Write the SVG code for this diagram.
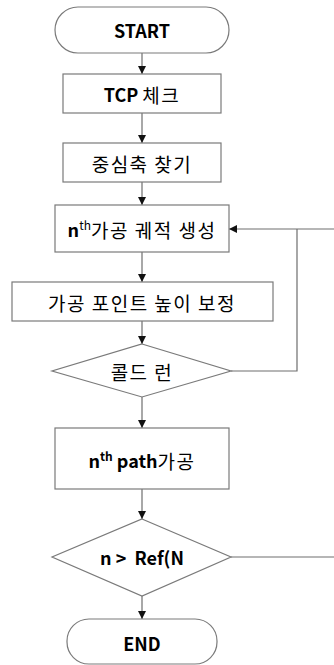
<svg xmlns="http://www.w3.org/2000/svg" width="334" height="665" viewBox="0 0 334 665">
<style>
.s{fill:#fff;stroke:#7a7a7a;stroke-width:1.2}
.c{fill:none;stroke:#6e6e6e;stroke-width:1.2}
.t{font-family:"Noto Sans CJK KR","Malgun Gothic",sans-serif;font-size:18px;fill:#000;text-anchor:middle;dominant-baseline:central}
.k{font-size:19px;letter-spacing:1.5px}
.b{font-weight:bold}
</style>
<defs>
<marker id="ah" markerWidth="8" markerHeight="8" refX="8" refY="4" orient="auto" markerUnits="userSpaceOnUse">
<path d="M0,0 L8,4 L0,8 Z" fill="#111"/>
</marker>
</defs>
<g id="connectors">
<line class="c" x1="142" y1="53" x2="142" y2="74" marker-end="url(#ah)"/>
<line class="c" x1="142" y1="113" x2="142" y2="143" marker-end="url(#ah)"/>
<line class="c" x1="142" y1="182" x2="142" y2="205" marker-end="url(#ah)"/>
<line class="c" x1="142" y1="252" x2="142" y2="282" marker-end="url(#ah)"/>
<line class="c" x1="142" y1="321" x2="142" y2="344" marker-end="url(#ah)"/>
<polyline class="c" points="231,371 297,371 297,229"/>
<line class="c" x1="334" y1="229" x2="229" y2="229" marker-end="url(#ah)"/>
<line class="c" x1="142" y1="397" x2="142" y2="428" marker-end="url(#ah)"/>
<line class="c" x1="142" y1="489" x2="142" y2="519" marker-end="url(#ah)"/>
<line class="c" x1="231" y1="557" x2="334" y2="557"/>
<line class="c" x1="142" y1="596" x2="142" y2="619" marker-end="url(#ah)"/>
</g>
<g id="start">
<rect class="s" x="55" y="7" width="174" height="46" rx="23"/>
<text class="t b" x="142" y="30">START</text>
</g>
<g id="tcp">
<rect class="s" x="63" y="74" width="158" height="39"/>
<text class="t" x="142" y="94"><tspan class="b">TCP</tspan> <tspan class="k">체크</tspan></text>
</g>
<g id="axis">
<rect class="s" x="63" y="143" width="158" height="39"/>
<text class="t k" x="142" y="163">중심축 찾기</text>
</g>
<g id="traj">
<rect class="s" x="55" y="205" width="174" height="47"/>
<text class="t" x="142" y="229"><tspan class="b">n</tspan><tspan font-size="12" dy="-5">th</tspan><tspan class="k" dy="5">가공 궤적 생성</tspan></text>
</g>
<g id="height">
<rect class="s" x="12" y="282" width="261" height="39"/>
<text class="t k" x="142" y="302">가공 포인트 높이 보정</text>
</g>
<g id="cold">
<polygon class="s" points="142,344 231,371 142,397 52,371"/>
<text class="t k" x="142" y="371">콜드 런</text>
</g>
<g id="path">
<rect class="s" x="55" y="428" width="174" height="61"/>
<text class="t" x="142" y="460"><tspan class="b">n</tspan><tspan class="b" font-size="12" dy="-5">th</tspan><tspan class="b" dy="5"> path</tspan><tspan class="k">가공</tspan></text>
</g>
<g id="cond">
<polygon class="s" points="142,519 231,557 142,596 52,557"/>
<text class="t b" x="142" y="557" xml:space="preserve">n &gt;  Ref(N</text>
</g>
<g id="end">
<rect class="s" x="67" y="619" width="150" height="45" rx="22"/>
<text class="t b" x="142" y="643">END</text>
</g>
</svg>
